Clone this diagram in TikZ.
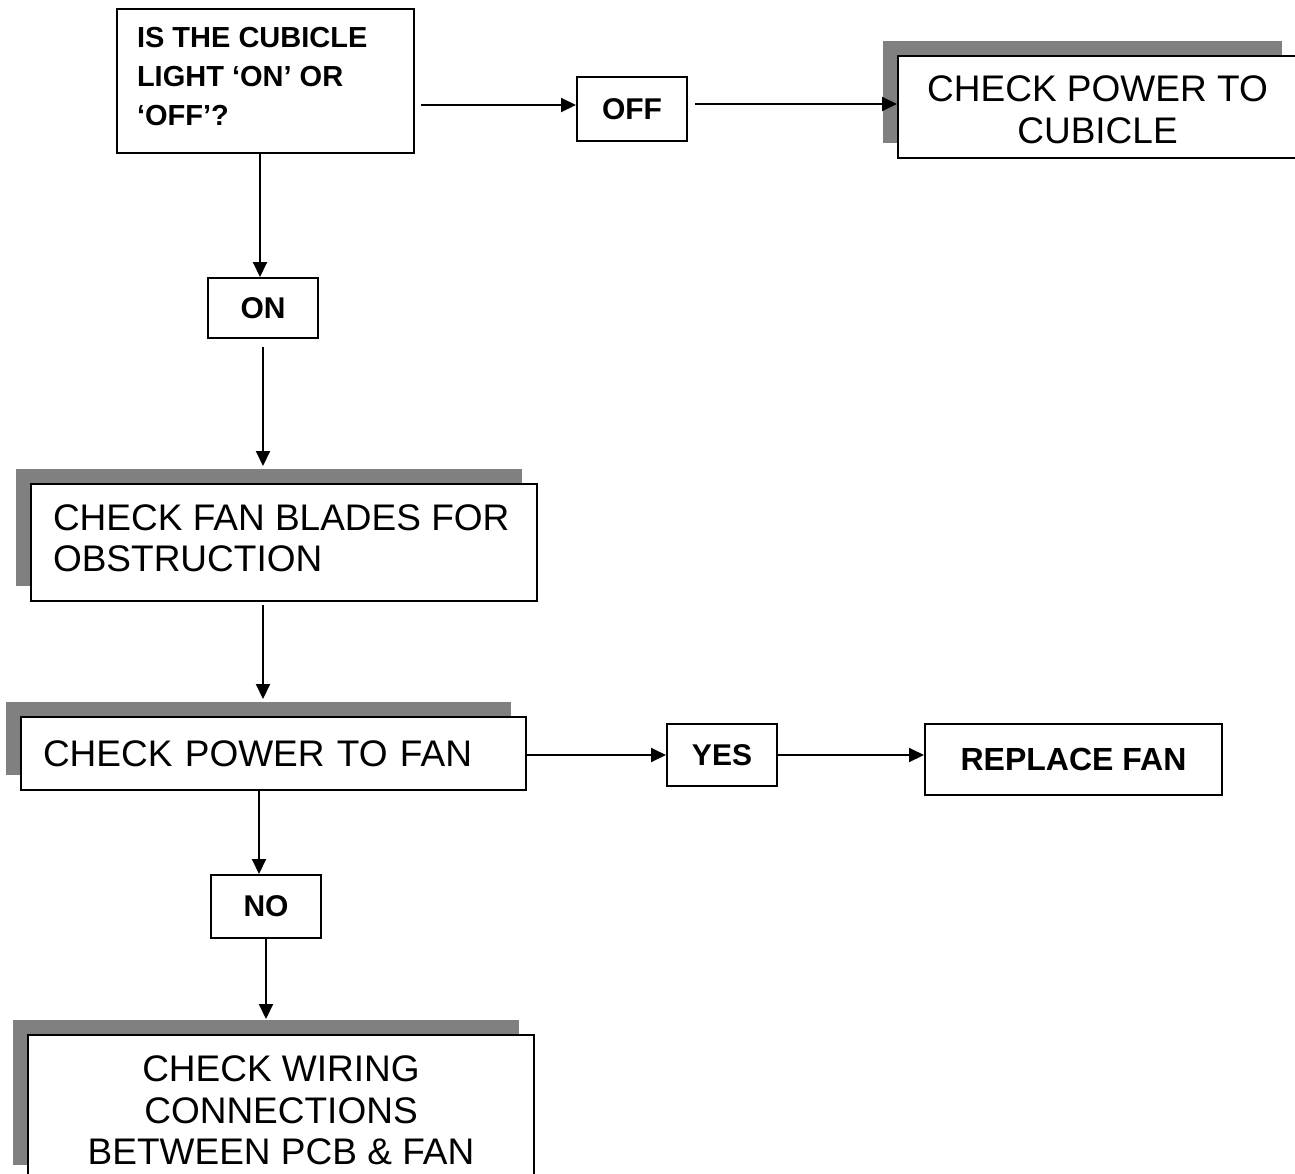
\documentclass[tikz,border=0pt]{standalone}
\usepackage{fontspec}
\setmainfont{Liberation Sans}
\usetikzlibrary{arrows.meta,shadows}
\definecolor{shadowgray}{HTML}{808080}
\tikzset{
  box/.style={draw=black, line width=2pt, fill=white, inner sep=0pt, align=center},
  shbox/.style={box, drop shadow={shadow xshift=-15pt, shadow yshift=15pt, fill=shadowgray, opacity=1}},
  bigtext/.style={font=\fontsize{37}{41.5}\selectfont},
  boldtext/.style={font=\fontsize{30}{39}\selectfont\bfseries},
  arrow/.style={line width=2pt, -{Triangle[length=15pt,width=14pt]}}
}
\begin{document}
\begin{tikzpicture}[x=1pt,y=-1pt]
\useasboundingbox (0,0) rectangle (1295,1173);
% nodes
\node[box, font=\fontsize{29}{39}\selectfont\bfseries, minimum width=297pt, minimum height=144pt] (q) at (265.5,81)
  {\parbox[c][144pt][c]{257pt}{\raggedright IS THE CUBICLE\\LIGHT ‘ON’ OR\\‘OFF’?\par\vspace{9pt}}};
\node[box, boldtext, minimum width=110pt, minimum height=64pt] (off) at (632,109) {OFF};
\node[shbox, bigtext, minimum width=399pt, minimum height=102pt] (cp) at (1097.5,107)
  {\parbox[c][102pt][c]{390pt}{\centering\vspace*{6pt}CHECK POWER TO\\CUBICLE\par}};
\node[box, boldtext, minimum width=110pt, minimum height=60pt] (on) at (263,308) {ON};
\node[shbox, bigtext, minimum width=506pt, minimum height=117pt] (fb) at (284,542.5)
  {\parbox[c][117pt][c]{462pt}{\raggedright\mbox{CHECK FAN BLADES FOR}\\OBSTRUCTION\par\vspace{8pt}}};
\node[shbox, bigtext, minimum width=505pt, minimum height=73pt, text width=461pt, align=left] (pf) at (273.5,753.5)
  {CHECK POWER TO FAN};
\node[box, boldtext, minimum width=110pt, minimum height=62pt] (yes) at (722,755) {YES};
\node[box, font=\fontsize{32}{39}\selectfont\bfseries, minimum width=297pt, minimum height=71pt] (rf) at (1073.5,759.5) {REPLACE FAN};
\node[box, boldtext, minimum width=110pt, minimum height=63pt] (no) at (266,906.5) {NO};
\node[shbox, bigtext, minimum width=506pt, minimum height=145pt] (wr) at (281,1107.5)
  {\parbox[c][145pt][c]{490pt}{\centering\vspace*{6pt}CHECK WIRING\\CONNECTIONS\\BETWEEN PCB \& FAN\par}};
% connectors
\draw[arrow] ([xshift=6pt,yshift=4pt]q.east |- off.west) -- ([yshift=4pt]off.west);
\draw[arrow] ([xshift=7pt,yshift=5pt]off.east) -- ([yshift=5pt]off.east -| cp.west);
\draw[arrow] ([xshift=-3pt]on.north |- q.south) -- ([xshift=-3pt]on.north);
\draw[arrow] ([yshift=-8pt]on.south) -- ([yshift=17pt]fb.north -| on.south);
\draw[arrow] ([yshift=-3pt]fb.south -| on.south) -- ([yshift=17pt]pf.north -| on.south);
\draw[arrow] (pf.east |- yes.west) -- (yes.west);
\draw[arrow] (yes.east) -- (yes.east -| rf.west);
\draw[arrow] ([xshift=-7pt]no.north |- pf.south) -- ([xshift=-7pt]no.north);
\draw[arrow] (no.south) -- ([yshift=15pt]wr.north -| no.south);
\end{tikzpicture}
\end{document}
